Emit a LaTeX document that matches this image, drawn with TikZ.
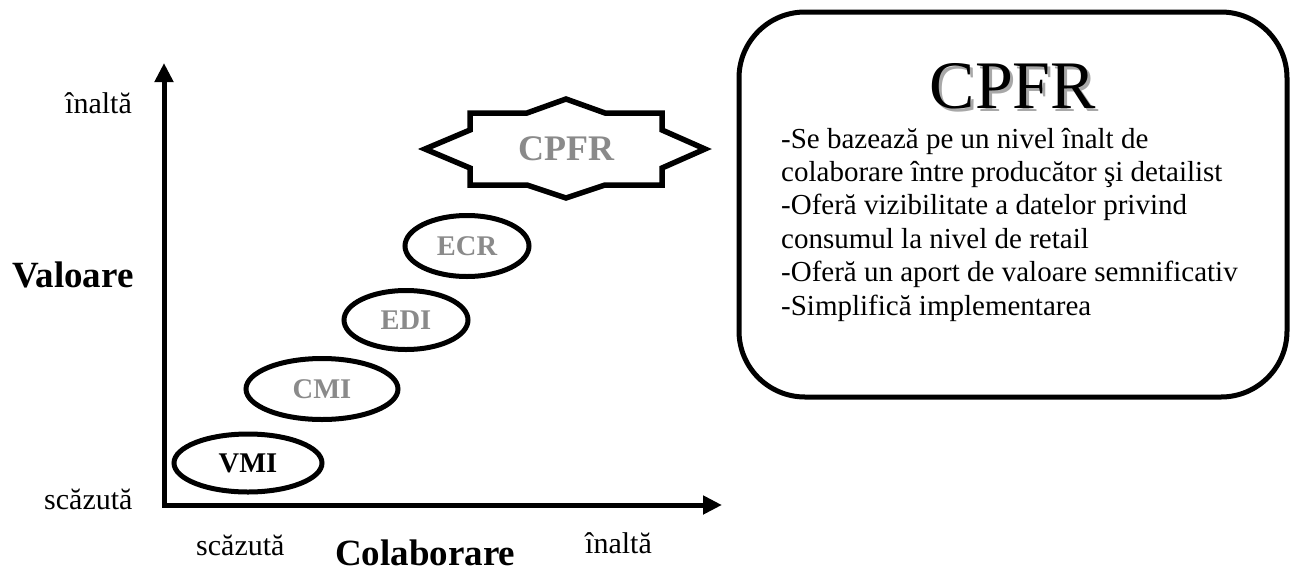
\documentclass[tikz,border=0pt]{standalone}
\usepackage{fontspec}
\setmainfont{Liberation Serif}
\usetikzlibrary{arrows.meta,shapes.geometric}
\definecolor{lblgray}{HTML}{8A8A8A}
\definecolor{shadowgray}{HTML}{A8A8A8}
\begin{document}
\begin{tikzpicture}[x=1pt,y=-1pt,
  axis/.style={line width=5pt,line join=miter,{Triangle[length=19pt,width=18pt]}-{Triangle[length=19pt,width=18pt]}},
  lvl/.style={ellipse,draw,line width=5pt,inner sep=0pt,font=\fontsize{28.5}{30}\selectfont\bfseries,text=lblgray},
  ticklbl/.style={inner sep=0pt,anchor=base west,font=\fontsize{30}{34}\selectfont},
  axislbl/.style={inner sep=0pt,anchor=base west,font=\fontsize{37}{40}\selectfont\bfseries},
  bodytext/.style={inner sep=0pt,anchor=base west,align=left,font=\fontsize{29}{33.4}\selectfont},
  titletext/.style={inner sep=0pt,anchor=base,scale=2,font=\fontsize{34}{36}\selectfont}]
\useasboundingbox (0,0) rectangle (1294,571);

% axes
\coordinate (ytip) at (164,63);
\coordinate (orig) at (164,505);
\coordinate (xtip) at (722,505);
\draw[axis] (ytip) -- (orig) -- (xtip);

% axis labels
\node[ticklbl] (yhigh) at (65,113) {înaltă};
\node[ticklbl] (ylow) at (44,509) {scăzută};
\node[axislbl] (ylab) at (12,287) {Valoare};
\node[ticklbl] (xlow) at (196,555) {scăzută};
\node[axislbl] (xlab) at (335,565) {Colaborare};
\node[ticklbl] (xhigh) at (585,553) {înaltă};

% collaboration levels
\node[lvl,minimum width=148pt,minimum height=58pt,text=black] (vmi) at (248,463) {VMI};
\node[lvl,minimum width=152pt,minimum height=61pt] (cmi) at (322,389) {CMI};
\node[lvl,minimum width=124pt,minimum height=59pt] (edi) at (406,320) {EDI};
\node[lvl,minimum width=124pt,minimum height=61pt] (ecr) at (467,246) {ECR};

% CPFR star
\coordinate (sc) at (566,149);
\draw[line width=5.5pt,line join=miter,fill=white]
  (470,113) -- (527,113) -- (566,99) -- (605,113) -- (662,113)
  -- (662,130) -- (705,149) -- (662,168) -- (662,185)
  -- (605,185) -- (566,198) -- (527,185) -- (470,185)
  -- (470,168) -- (425,149) -- (470,130) -- cycle;
\node[inner sep=0pt,font=\fontsize{36}{40}\selectfont\bfseries,text=lblgray] (star) at (sc) {CPFR};

% description box
\draw[line width=5pt,rounded corners=66pt] (739,12) rectangle (1287,397);
\node[titletext,text=shadowgray] (ttlshadow) at (1016,111) {CPFR};
\node[titletext] (ttl) at (1013,108) {CPFR};
\node[bodytext] (body) at (781,315) {-Se bazează pe un nivel înalt de\\
colaborare între producător şi detailist\\
-Oferă vizibilitate a datelor privind\\
consumul la nivel de retail\\
-Oferă un aport de valoare semnificativ\\
-Simplifică implementarea};
\end{tikzpicture}
\end{document}
